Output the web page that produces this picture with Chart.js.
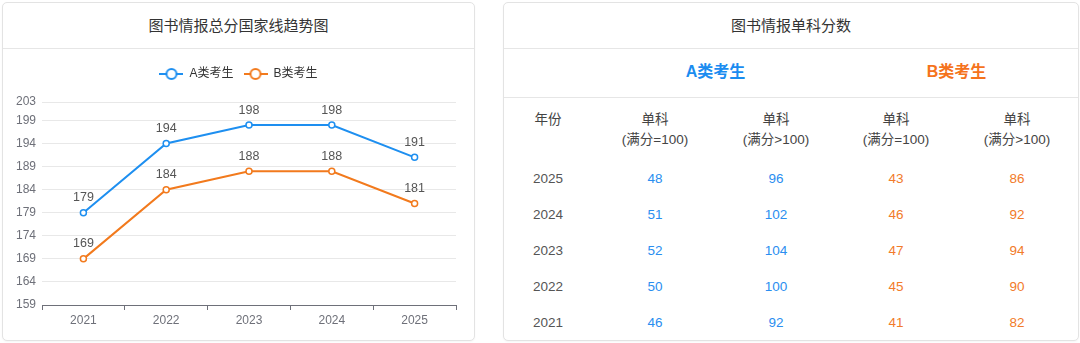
<!DOCTYPE html>
<html><head><meta charset="utf-8">
<script src="https://cdn.jsdelivr.net/npm/chart.js@4.4.1/dist/chart.umd.min.js"></script>
<style>
html,body{margin:0;padding:0;background:#fff;width:1080px;height:343px;overflow:hidden;font-family:"Liberation Sans","Noto Sans CJK SC",sans-serif;}
.card{position:absolute;top:2px;height:337px;border:1px solid #e3e3e3;border-radius:5px;background:#fff;box-shadow:0 1px 2px rgba(0,0,0,0.04);}
.title{position:absolute;left:0;right:0;top:0;height:45px;line-height:44px;text-align:center;font-size:15px;color:#333;border-bottom:1px solid #e6e6e6;font-family:"Noto Sans CJK SC",sans-serif;}
#left{left:2px;width:471px;}
#right{left:503px;width:574px;}
#chartWrap{position:absolute;left:0;top:46px;width:470px;height:290px;}
.grp{position:absolute;top:46px;height:48px;left:0;right:0;border-bottom:1px solid #e6e6e6;}
.grp div{position:absolute;top:0;line-height:46px;font-size:16px;font-weight:bold;transform:translateX(-50%);white-space:nowrap;font-family:"Liberation Sans","Noto Sans CJK SC",sans-serif;}
.cell{position:absolute;transform:translate(-50%,-50%);text-align:center;white-space:nowrap;}
.hd{font-size:13.5px;color:#444;line-height:20px;}
.num{font-size:13.5px;}
</style></head>
<body>
<div class="card" id="left">
  <div class="title">图书情报总分国家线趋势图</div>
  <div id="chartWrap"><canvas id="c"></canvas></div>
</div>
<div class="card" id="right">
  <div class="title">图书情报单科分数</div>
  <div class="grp"><div style="left:211.5px;color:#1a8cf0">A类考生</div><div style="left:452.5px;color:#f5731c">B类考生</div></div>
  <div id="tbl"></div>
</div>
<script>
// ---- data ----
const years = ["2021","2022","2023","2024","2025"];
const seriesA = [179,194,198,198,191];
const seriesB = [169,184,188,188,181];
const yTicks = [159,164,169,174,179,184,189,194,199,203];
const seriesNames = ["A类考生","B类考生"];

const tableYears = ["2025","2024","2023","2022","2021"];
const a100 = [48,51,52,50,46];
const aOver = [96,102,104,100,92];
const b100 = [43,46,47,45,41];
const bOver = [86,92,94,90,82];
const colHeads = ["单科<br>(满分=100)","单科<br>(满分&gt;100)","单科<br>(满分=100)","单科<br>(满分&gt;100)"];

// ---- table ----
const BLUE="#2a8ef0", ORANGE="#f27b2a";
const tbl=document.getElementById('tbl');
const colX=[44,151,272,392,513];
function cell(html,x,y,cls,color){const d=document.createElement('div');d.className='cell '+cls;d.style.left=x+'px';d.style.top=y+'px';if(color)d.style.color=color;d.innerHTML=html;tbl.appendChild(d);}
cell("年份",colX[0],117,'hd');
colHeads.forEach((h,i)=>cell(h,colX[i+1],127,'hd'));
const cols=[a100,aOver,b100,bOver];
const colColors=[BLUE,BLUE,ORANGE,ORANGE];
tableYears.forEach((y,r)=>{
  const yy=175+r*36;
  cell(y,colX[0],yy,'num','#555');
  cols.forEach((c,i)=>cell(String(c[r]),colX[i+1],yy,'num',colColors[i]));
});

// ---- chart ----
function legendIcon(color){
  const cv=document.createElement('canvas');cv.width=24;cv.height=14;
  const x=cv.getContext('2d');
  x.strokeStyle=color;x.lineWidth=2;
  x.beginPath();x.moveTo(0,7);x.lineTo(24,7);x.stroke();
  x.beginPath();x.arc(12,7,5,0,Math.PI*2);x.fillStyle='#fff';x.fill();x.stroke();
  return cv;
}
const LBLUE="#1e8ff0", LORANGE="#f27a1d";
const FONT='"Liberation Sans", "Noto Sans CJK SC", sans-serif';
const icons=[legendIcon(LBLUE),legendIcon(LORANGE)];
const valueLabels={
  id:'valueLabels',
  afterDatasetsDraw(chart){
    const ctx=chart.ctx;ctx.save();
    ctx.font='12.5px '+FONT;ctx.fillStyle='#555';ctx.textAlign='center';ctx.textBaseline='middle';
    chart.data.datasets.forEach((ds,i)=>{
      chart.getDatasetMeta(i).data.forEach((pt,j)=>{ctx.fillText(String(ds.data[j]),pt.x,pt.y-15);});
    });
    ctx.restore();
  }
};
const legendPad={
  id:'legendPad',
  beforeInit(chart){
    const orig=chart.legend.fit;
    chart.legend.fit=function(){orig.call(this);this.height+=12;};
  },
  afterLayout(chart){
    chart.legend.left+=9;chart.legend.right+=9;
  }
};
new Chart(document.getElementById('c'),{
  type:'line',
  data:{labels:years,datasets:[
    {label:seriesNames[0],data:seriesA,borderColor:LBLUE,backgroundColor:'#fff',borderWidth:2,pointStyle:'circle',pointRadius:3,pointBorderWidth:1.5,pointBackgroundColor:'#fff',tension:0},
    {label:seriesNames[1],data:seriesB,borderColor:LORANGE,backgroundColor:'#fff',borderWidth:2,pointStyle:'circle',pointRadius:3,pointBorderWidth:1.5,pointBackgroundColor:'#fff',tension:0}
  ]},
  options:{
    responsive:true,maintainAspectRatio:false,animation:false,
    layout:{padding:{top:9,right:17,bottom:0,left:0}},
    plugins:{
      legend:{position:'top',labels:{usePointStyle:true,pointStyleWidth:24,boxHeight:12,padding:10,color:'#333',font:{size:12,family:FONT},
        generateLabels(chart){return chart.data.datasets.map((ds,i)=>({text:ds.label,pointStyle:icons[i],fillStyle:'#fff',strokeStyle:ds.borderColor,lineWidth:0,datasetIndex:i,fontColor:'#333'}));}}},
      tooltip:{enabled:false}
    },
    scales:{
      x:{offset:true,grid:{offset:true,drawOnChartArea:false,drawTicks:true,tickLength:5,color:'#6e7079'},border:{color:'#6e7079'},
        ticks:{color:'#6e7079',padding:3,font:{size:12,family:FONT}},
        afterFit(s){s.height=34;}},
      y:{min:159,max:203,grid:{color:'#e8e8e8',drawTicks:false},border:{display:false},
        ticks:{color:'#6e7079',padding:6,font:{size:12,family:FONT}},
        afterBuildTicks(s){s.ticks=yTicks.map(v=>({value:v}));},
        afterFit(s){s.width=39;}}
    }
  },
  plugins:[valueLabels,legendPad]
});
</script>
</body></html>
